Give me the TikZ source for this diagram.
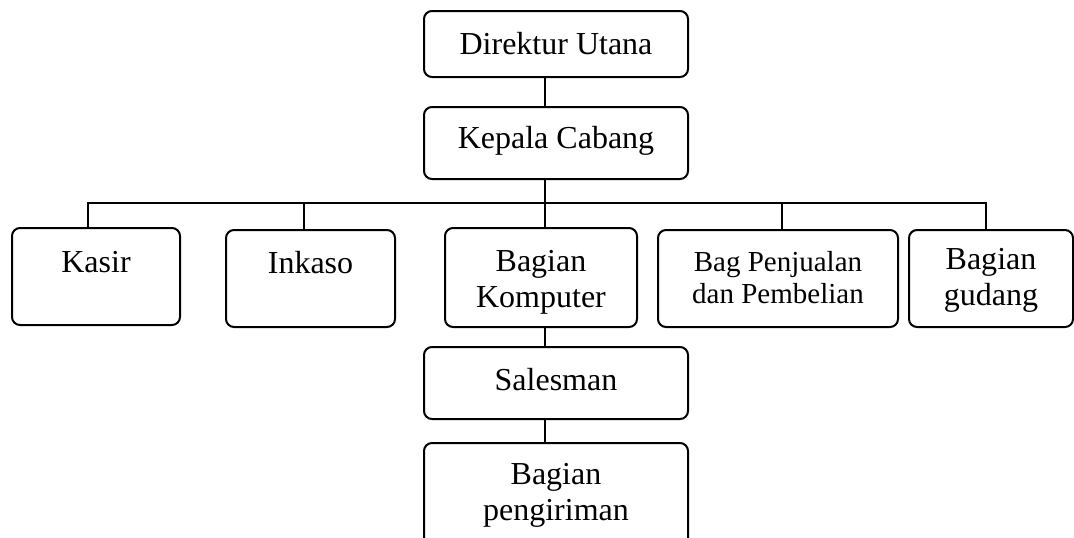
\documentclass[tikz,border=0pt]{standalone}
\usepackage{fontspec}
\setmainfont{Liberation Serif}
\begin{document}
\begin{tikzpicture}[x=0.5pt,y=-0.5pt,line width=1pt,
    unit/.style={draw,rounded corners=4pt,inner sep=0pt,align=center,anchor=base,
        font=\fontsize{16}{18}\selectfont},
    wide/.style={unit,minimum width=132pt}]
    \clip (0,0) rectangle (1074,537);

    % Top of the chart
    \node[wide,text height=21.5pt,text depth=11.5pt] (direktur) at (556,54) {Direktur Utana};
    \node[wide,text height=20.5pt,text depth=15.5pt] (kepala) at (556,148) {Kepala Cabang};

    % Second row
    \node[unit,minimum width=84pt,text height=22pt,text depth=26.5pt] (kasir) at (96,272) {Kasir};
    \node[unit,minimum width=84.5pt,text height=21.5pt,text depth=27pt] (inkaso) at (310.5,273) {Inkaso};
    \node[unit,minimum width=96pt,text height=39.5pt,text depth=10pt] (komputer) at (541,307) {Bagian\\Komputer};
    \node[unit,minimum width=120pt,text height=36.5pt,text depth=12pt,
        font=\fontsize{14.5}{16}\selectfont] (penjualan) at (778,303) {Bag Penjualan\\dan Pembelian};
    \node[unit,minimum width=82pt,text height=37.5pt,text depth=11pt] (gudang) at (991,305) {Bagian\\gudang};

    % Below the computer section
    \node[wide,text height=21.5pt,text depth=14.5pt] (salesman) at (556,390) {Salesman};
    \node[wide,text height=38.5pt,text depth=20pt] (pengiriman) at (556,520) {Bagian\\pengiriman};

    % Connectors
    \coordinate (bus) at (545,203);
    \draw ([xshift=-5.5pt]direktur.south) -- ([xshift=-5.5pt]kepala.north);
    \draw ([xshift=-5.5pt]kepala.south) -- ([xshift=2pt]komputer.north);
    \draw ([xshift=-4pt]kasir.north) |- (bus) -| ([xshift=-2.5pt]gudang.north);
    \draw ([xshift=-3.25pt]inkaso.north) -- ([xshift=-3.25pt]inkaso.north |- bus);
    \draw ([xshift=2pt]penjualan.north) -- ([xshift=2pt]penjualan.north |- bus);
    \draw ([xshift=2pt]komputer.south) -- ([xshift=-5.5pt]salesman.north);
    \draw ([xshift=-5.5pt]salesman.south) -- ([xshift=-5.5pt]pengiriman.north);
\end{tikzpicture}
\end{document}
